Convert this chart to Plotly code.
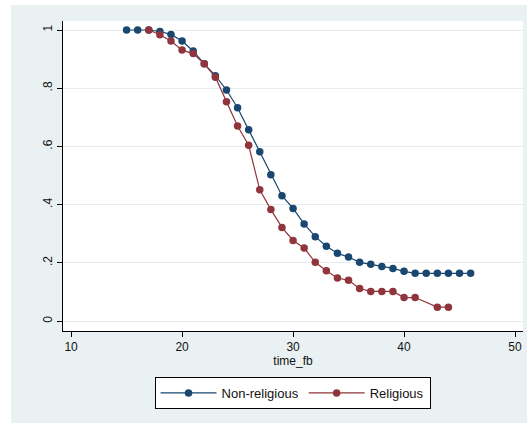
import plotly.graph_objects as go

# Data
time_nonrel = list(range(15, 47))
surv_nonrel = [1.0, 1.0, 1.0, 0.995, 0.985, 0.962, 0.928, 0.884, 0.843, 0.794,
               0.733, 0.657, 0.582, 0.503, 0.431, 0.387, 0.334, 0.290, 0.257, 0.233,
               0.220, 0.202, 0.195, 0.188, 0.181, 0.171, 0.164, 0.164, 0.164, 0.164,
               0.164, 0.164]

time_rel = list(range(17, 42)) + [43, 44]
surv_rel = [1.0, 0.984, 0.962, 0.931, 0.919, 0.884, 0.838, 0.754, 0.670, 0.604,
            0.451, 0.383, 0.322, 0.277, 0.251, 0.202, 0.173, 0.148, 0.140, 0.112,
            0.102, 0.102, 0.102, 0.081, 0.081, 0.048, 0.048]

x_ticks = [10, 20, 30, 40, 50]
y_ticks = [0, 0.2, 0.4, 0.6, 0.8, 1]
y_ticklabels = ["0", ".2", ".4", ".6", ".8", "1"]

BLUE = "#1a476f"
RED = "#90353b"
PANEL = "#eaf1f3"
GRID = "#e3ecef"
FONT = "Liberation Sans, Arial, sans-serif"

fig = go.Figure()
fig.add_trace(go.Scatter(x=time_nonrel, y=surv_nonrel, mode="lines+markers",
                         name="Non-religious",
                         line=dict(color=BLUE, width=1.2),
                         marker=dict(color=BLUE, size=7.5)))
fig.add_trace(go.Scatter(x=time_rel, y=surv_rel, mode="lines+markers",
                         name="Religious",
                         line=dict(color=RED, width=1.2),
                         marker=dict(color=RED, size=7.5)))

W, H = 527, 423
L, R, T, B = 63, 4, 21, 92
pw, ph = W - L - R, H - T - B

def px_x(x):
    return (x - L) / pw

def px_y(y):
    return (H - B - y) / ph

fig.update_layout(
    width=W, height=H,
    margin=dict(l=L, r=R, t=T, b=B, pad=0),
    paper_bgcolor=PANEL,
    plot_bgcolor="white",
    font=dict(family=FONT, size=12, color="#111111"),
    showlegend=True,
    legend=dict(orientation="h", x=0.499, xanchor="center",
                y=px_y(377), yanchor="top",
                bgcolor="white", bordercolor="black", borderwidth=1,
                font=dict(size=13, family=FONT, color="#111111"),
                itemwidth=56, traceorder="normal"),
    shapes=[
        dict(type="rect", xref="paper", yref="paper",
             x0=px_x(-5), x1=px_x(11), y0=px_y(430), y1=px_y(-5),
             fillcolor="white", line=dict(width=0), layer="above"),
        dict(type="rect", xref="paper", yref="paper",
             x0=px_x(-5), x1=px_x(535), y0=px_y(5), y1=px_y(-5),
             fillcolor="white", line=dict(width=0), layer="above"),
    ],
)

fig.update_xaxes(range=[9.27, 50.72], tickvals=x_ticks,
                 showgrid=False, zeroline=False,
                 showline=True, linecolor="black", linewidth=1,
                 ticks="outside", ticklen=5, tickcolor="black", tickwidth=1,
                 tickfont=dict(size=12),
                 title=dict(text="time_fb", font=dict(size=12), standoff=3))
fig.update_yaxes(range=[-0.034, 1.031], tickvals=y_ticks, ticktext=y_ticklabels,
                 tickangle=-90,
                 showgrid=True, gridcolor=GRID, gridwidth=1, zeroline=False,
                 showline=True, linecolor="black", linewidth=1,
                 ticks="outside", ticklen=5, tickcolor="black", tickwidth=1,
                 tickfont=dict(size=12))

fig.write_html("out.html",
               config={"displayModeBar": False},
               post_script="document.body.style.margin='0px';document.body.style.overflow='hidden';")
